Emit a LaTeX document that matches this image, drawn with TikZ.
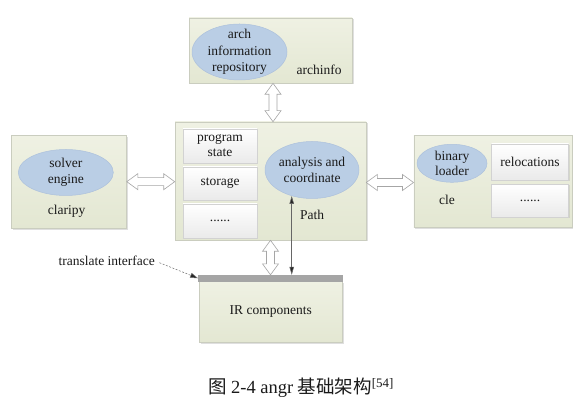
\documentclass[tikz,border=0pt]{standalone}
\usepackage{fontspec}
\setmainfont{Liberation Serif}
\newfontfamily\cjk{Noto Sans CJK SC}
\usetikzlibrary{shapes.geometric,shadows,calc,arrows.meta}
\definecolor{boxtop}{HTML}{EFF1E3}
\definecolor{boxbot}{HTML}{E3E7D2}
\definecolor{boxline}{HTML}{CACDBF}
\definecolor{ellfill}{HTML}{BACEE5}
\definecolor{ellline}{HTML}{ADC1DC}
\definecolor{rectop}{HTML}{FFFFFF}
\definecolor{recbot}{HTML}{EAEAEA}
\definecolor{recline}{HTML}{D2D2D2}
\definecolor{barcol}{HTML}{A5A5A5}
\definecolor{txt}{HTML}{1A1A1A}
\tikzset{
  x=1pt, y=1pt,
  every node/.style={text=txt, font=\fontsize{13.5}{16.5}\selectfont},
  bigbox/.style={draw=boxline, line width=0.6pt, top color=boxtop, bottom color=boxbot,
    inner sep=0pt, drop shadow={shadow xshift=1.5pt, shadow yshift=-1.5pt, opacity=0.25}},
  ellbox/.style={ellipse, draw=ellline, line width=0.5pt, fill=ellfill, inner sep=0pt},
  recbox/.style={draw=recline, line width=0.5pt, top color=rectop, bottom color=recbot,
    inner sep=0pt, minimum width=74pt, align=center,
    drop shadow={shadow xshift=1pt, shadow yshift=-1pt, opacity=0.2}},
  harrow/.style={draw=black!35, line width=0.6pt, fill=white},
  thinarrow/.style={draw=black!60, line width=0.6pt, {Triangle[length=8pt,width=4.5pt,fill=black!85]}-{Triangle[length=8pt,width=4.5pt,fill=black!85]}},
  dasharrow/.style={draw=black!55, line width=0.5pt, dashed, dash pattern=on 2pt off 1.5pt, -{Triangle[length=8pt,width=5pt,fill=black!85]}}
}
\newcommand\vharrow[2]{\draw[harrow] let \p1=(#1), \p2=(#2) in
  (\x1,\y1) -- (\x1+8pt,\y1-11pt) -- (\x1+4pt,\y1-11pt) -- (\x1+4pt,\y2+11pt) -- (\x1+8pt,\y2+11pt)
  -- (\x1,\y2) -- (\x1-8pt,\y2+11pt) -- (\x1-4pt,\y2+11pt) -- (\x1-4pt,\y1-11pt) -- (\x1-8pt,\y1-11pt) -- cycle;}
\newcommand\hharrow[2]{\draw[harrow] let \p1=(#1), \p2=(#2) in
  (\x1,\y1) -- (\x1+11pt,\y1+8pt) -- (\x1+11pt,\y1+4pt) -- (\x2-11pt,\y1+4pt) -- (\x2-11pt,\y1+8pt)
  -- (\x2,\y1) -- (\x2-11pt,\y1-8pt) -- (\x2-11pt,\y1-4pt) -- (\x1+11pt,\y1-4pt) -- (\x1+11pt,\y1-8pt) -- cycle;}
\begin{document}
\begin{tikzpicture}
\useasboundingbox (0,0) rectangle (585,411);
\fill[white] (0,0) rectangle (585,411);

% archinfo
\node[bigbox, minimum width=163pt, minimum height=65pt] (archbox) at (270.5,360.5) {};
\node[ellbox, minimum width=95pt, minimum height=56pt,
  label={[align=center, font=\fontsize{13.5}{16.7}\selectfont]center:arch\\information\\repository}] (archell) at (239.5,359) {};
\node (archtxt) at (319,341) {archinfo};

% core
\node[bigbox, minimum width=191pt, minimum height=118pt] (corebox) at (270.5,230) {};
\node[recbox, minimum height=34pt, font=\fontsize{13.5}{15}\selectfont] (pstate) at (220,265) {program\\state};
\node[recbox, minimum height=33pt] (storage) at (220,227.5) {storage};
\node[recbox, minimum height=34pt] (cdots) at (220,190) {......};
\node[ellbox, minimum width=94pt, minimum height=57pt,
  label={[align=center, font=\fontsize{13.5}{16.5}\selectfont]center:analysis and\\coordinate}] (anaell) at (312,241) {};
\node (pathtxt) at (312,196) {Path};

% claripy
\node[bigbox, minimum width=115pt, minimum height=93pt] (clabox) at (69,229.3) {};
\node[ellbox, minimum width=95pt, minimum height=46pt,
  label={[align=center, font=\fontsize{13.5}{16.5}\selectfont]center:solver\\engine}] (solell) at (65.8,238.5) {};
\node (clatxt) at (66.7,199.3) {claripy};

% cle
\node[bigbox, minimum width=158pt, minimum height=92pt] (clebox) at (492.8,229.5) {};
\node[ellbox, minimum width=70pt, minimum height=38pt,
  label={[align=center, font=\fontsize{13.5}{15.5}\selectfont]center:binary\\loader}] (binell) at (452,247.7) {};
\node[recbox, minimum width=77pt, minimum height=36pt] (reloc) at (530,249) {relocations};
\node[recbox, minimum width=77pt, minimum height=33pt] (cledots) at (530,210.3) {......};
\node (cletxt) at (447,211) {cle};

% IR
\node[bigbox, minimum width=143pt, minimum height=61pt] (irbox) at (270.8,98.8) {};
\node (irtxt) at (270.8,99) {IR components};
\node[fill=barcol, inner sep=0pt, minimum width=145pt, minimum height=6.5pt] (irbar) at (270.8,132.7) {};

% hollow arrows
\vharrow{$(archbox.south)+(2.5,0)$}{corebox.north}
\vharrow{corebox.south}{irbar.north}
\hharrow{clabox.east}{corebox.west}
\hharrow{$(corebox.east)+(0,-1.5)$}{clebox.west}

% thin arrow
\draw[thinarrow] (anaell.-128) -- (anaell.-128 |- irbar.north);

% translate interface
\node (trans) at (106.7,150.3) {translate interface};
\draw[dasharrow] ($(trans.east)+(1,-2)$) -- (irbar.west);

% caption
\node[font=\fontsize{18.5}{20}\selectfont] (caption) at (301,23) {{\cjk 图} 2-4 angr {\cjk 基础架构}\textsuperscript{[54]}};
\end{tikzpicture}
\end{document}
